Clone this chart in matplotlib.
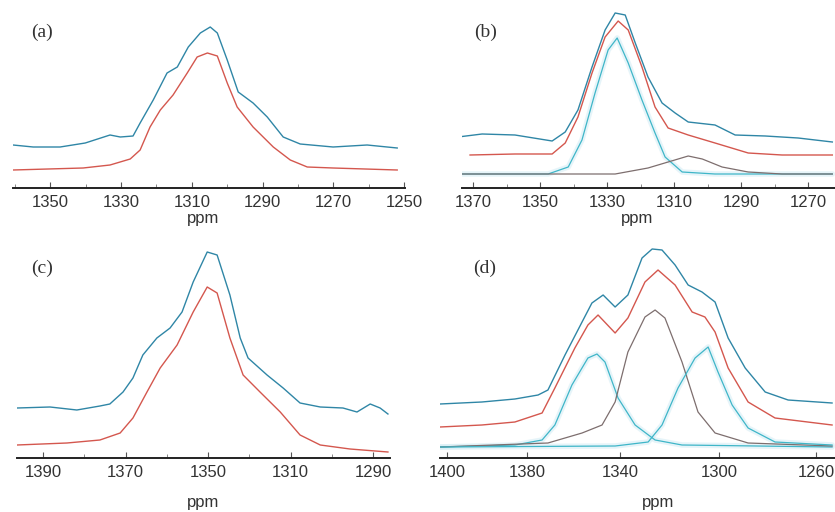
import matplotlib
matplotlib.use("Agg")
import matplotlib.pyplot as plt
from matplotlib.ticker import MultipleLocator

# ---------------- data ----------------
# Panel (a)
a_blue_ppm = [1360.5, 1354.8, 1347.2, 1340.1, 1333.1, 1330.2, 1326.6, 1324.6, 1320.9, 1317.0,
              1314.1, 1311.0, 1307.6, 1304.8, 1302.8, 1300.0, 1296.9, 1292.7, 1288.7, 1284.2,
              1279.4, 1270.1, 1260.5, 1252.0]
a_blue_int = [43, 41, 41, 45, 53, 51, 52, 65, 88, 115, 121, 141, 155, 161, 155, 128, 96, 85, 71, 51,
              44, 41, 43, 40]
a_red_ppm = [1360.5, 1340.7, 1333.1, 1327.4, 1324.6, 1321.8, 1318.9, 1315.3, 1311.3, 1308.5,
             1305.6, 1302.8, 1300.0, 1297.2, 1292.7, 1287.0, 1282.2, 1277.4, 1270.1, 1252.0]
a_red_int = [18, 20, 23, 29, 38, 61, 78, 93, 115, 131, 135, 132, 105, 81, 61, 41, 28, 21, 20, 18]

# Panel (b)
b_blue_ppm = [1374.5, 1367.3, 1357.5, 1346.4, 1342.5, 1338.7, 1334.5, 1330.6, 1327.6, 1324.6,
              1321.6, 1317.8, 1313.6, 1309.7, 1305.8, 1297.8, 1291.8, 1282.8, 1273.0, 1262.8]
b_blue_int = [51, 54, 53, 47, 56, 78, 121, 158, 175, 173, 145, 111, 85, 75, 66, 63, 53, 52, 50, 46]
b_red_ppm = [1370.9, 1357.5, 1346.4, 1342.5, 1338.7, 1334.5, 1330.6, 1326.7, 1323.7, 1319.6,
             1315.7, 1311.8, 1305.8, 1297.8, 1287.9, 1277.8, 1262.8]
b_red_int = [33, 34, 34, 45, 71, 115, 151, 167, 158, 121, 81, 60, 53, 45, 35, 33, 33]
b_fit1_ppm = [1373.3, 1347.6, 1341.6, 1337.5, 1333.6, 1329.7, 1327.0, 1323.7, 1319.6, 1315.7,
              1312.7, 1307.6, 1297.8, 1262.8]
b_fit1_int = [14, 14, 21, 48, 95, 138, 150, 125, 88, 55, 31, 16, 14, 14]
b_fit2_ppm = [1373.3, 1327.6, 1317.8, 1311.8, 1305.8, 1301.6, 1295.7, 1287.9, 1277.8, 1262.8]
b_fit2_int = [14, 14, 20, 26, 32, 29, 21, 16, 14, 14]

# Panel (c)
c_blue_pos = [1396.3, 1388.3, 1381.8, 1376.2, 1373.8, 1370.6, 1368.2, 1365.8, 1362.4, 1359.2,
              1356.3, 1353.6, 1350.2, 1347.8, 1344.7, 1342.2, 1340.3, 1335.7, 1331.8, 1327.7,
              1322.8, 1317.3, 1313.9, 1310.7, 1308.3, 1306.4]
c_blue_int = [50, 51, 48, 52, 54, 66, 80, 103, 120, 130, 146, 176, 206, 203, 163, 120, 100, 83, 70,
              55, 51, 50, 46, 54, 50, 44]
c_red_pos = [1396.3, 1384.2, 1376.2, 1371.3, 1368.2, 1364.8, 1361.6, 1357.5, 1353.6, 1350.2,
             1347.8, 1344.7, 1341.5, 1337.4, 1332.5, 1327.7, 1322.8, 1315.6, 1306.4]
c_red_int = [13, 15, 18, 25, 40, 66, 90, 113, 146, 171, 165, 120, 83, 66, 46, 23, 13, 9, 6]

# Panel (d)
d_blue_pos = [1402.6, 1386.9, 1374.5, 1365.8, 1362.1, 1355.7, 1349.3, 1345.6, 1341.4, 1336.9,
              1332.1, 1326.8, 1323.0, 1319.3, 1314.4, 1309.5, 1304.3, 1299.4, 1294.5, 1288.1,
              1280.6, 1272.0, 1255.5]
d_blue_int = [54, 56, 59, 63, 68, 103, 136, 155, 163, 151, 163, 200, 209, 208, 193, 173, 166, 156,
              120, 90, 66, 58, 55]
d_red_pos = [1402.6, 1386.9, 1374.5, 1364.3, 1359.5, 1352.0, 1347.1, 1343.3, 1336.9, 1332.1,
             1325.7, 1320.8, 1314.4, 1308.0, 1303.2, 1299.4, 1294.5, 1287.0, 1276.9, 1255.5]
d_red_int = [31, 33, 36, 45, 70, 110, 133, 143, 125, 140, 176, 188, 173, 146, 141, 126, 90, 56, 40, 33]
d_fit1_pos = [1402.6, 1374.5, 1364.3, 1359.5, 1353.1, 1347.1, 1343.7, 1340.7, 1335.8, 1329.4,
              1321.9, 1311.8, 1255.5]
d_fit1_int = [11, 13, 18, 33, 73, 100, 104, 96, 60, 33, 18, 13, 11]
d_fit2_pos = [1402.6, 1362.1, 1349.3, 1341.8, 1336.9, 1332.1, 1325.7, 1321.9, 1318.2, 1311.8,
              1305.8, 1299.4, 1287.0, 1255.5]
d_fit2_int = [11, 15, 25, 33, 56, 106, 141, 148, 140, 96, 46, 25, 15, 12]
d_fit3_pos = [1402.6, 1336.9, 1324.5, 1319.3, 1313.3, 1306.9, 1302.0, 1298.3, 1293.0, 1287.0,
              1276.9, 1255.5]
d_fit3_int = [11, 12, 16, 33, 70, 100, 111, 86, 53, 30, 16, 13]

# ticks / labels
a_ticks = [1350, 1330, 1310, 1290, 1270, 1250]
a_labels = ["1350", "1330", "1310", "1290", "1270", "1250"]
b_ticks = [1370, 1350, 1330, 1310, 1290, 1270]
b_labels = ["1370", "1350", "1330", "1310", "1290", "1270"]
c_ticks = [1390, 1370, 1350, 1330, 1310]
c_labels = ["1390", "1370", "1350", "1310", "1290"]
d_ticks = [1400, 1370, 1335, 1298, 1261.5]
d_labels = ["1400", "1380", "1340", "1300", "1260"]
panel_tags = ["(a)", "(b)", "(c)", "(d)"]

# ---------------- styling ----------------
BLUE = "#2f86a6"
RED = "#d4574e"
CYAN = "#3fb6c8"
GREY = "#7d6e6e"
HALO = "#d6eef5"

W, H = 835, 512
fig = plt.figure(figsize=(W / 100, H / 100), dpi=100)
fig.patch.set_facecolor("white")


def make_ax(x0, x1, ytop, ybot):
    return fig.add_axes([x0 / W, 1 - ybot / H, (x1 - x0) / W, (ybot - ytop) / H])


axA = make_ax(13, 405, 8, 188)
axB = make_ax(462, 835, 8, 188)
axC = make_ax(17, 390, 248, 458)
axD = make_ax(440, 835, 248, 458)


def style(ax, xlim, ylim, ticks, labels, minor, tag, tagpos, ppm_x, ppm_y):
    ax.set_xlim(*xlim)
    ax.set_ylim(*ylim)
    for s in ("top", "left", "right"):
        ax.spines[s].set_visible(False)
    ax.spines["bottom"].set_linewidth(1.4)
    ax.spines["bottom"].set_color("#222222")
    ax.set_yticks([])
    ax.set_xticks(ticks, labels)
    if minor:
        ax.xaxis.set_minor_locator(MultipleLocator(10))
    ax.tick_params(axis="x", which="major", direction="in", length=4, width=0.8,
                   colors="#555555", labelcolor="#333333", labelsize=12, pad=5)
    ax.tick_params(axis="x", which="minor", direction="in", length=3, width=0.7, colors="#888888")
    for lab in ax.get_xticklabels():
        lab.set_fontfamily("Liberation Sans")
    ax.set_xlabel("ppm", fontsize=12, fontfamily="Liberation Sans", color="#333333")
    ax.xaxis.set_label_coords(ppm_x, ppm_y)
    ax.text(tagpos[0], tagpos[1], tag, transform=ax.transAxes, ha="center", va="center",
            fontsize=14, fontfamily="Liberation Serif", color="#333333")
    ax.patch.set_alpha(0)


def fit(ax, x, y, color):
    ax.plot(x, y, color=HALO, lw=4, alpha=0.6, solid_capstyle="round", zorder=1)
    ax.plot(x, y, color=color, lw=0.9, zorder=2)


# (a)
axA.plot(a_blue_ppm, a_blue_int, color=BLUE, lw=1.0)
axA.plot(a_red_ppm, a_red_int, color=RED, lw=1.0)
style(axA, (1360.5, 1249.8), (0, 180), a_ticks, a_labels, True, panel_tags[0],
      (0.074, 0.867), 0.485, -0.13)

# (b)
fit(axB, b_fit1_ppm, b_fit1_int, CYAN)
axB.plot(b_fit2_ppm, b_fit2_int, color=GREY, lw=0.9)
axB.plot(b_blue_ppm, b_blue_int, color=BLUE, lw=1.0)
axB.plot(b_red_ppm, b_red_int, color=RED, lw=1.0)
style(axB, (1373.3, 1262.0), (0, 180), b_ticks, b_labels, True, panel_tags[1],
      (0.062, 0.867), 0.47, -0.13)

# (c)
axC.plot(c_blue_pos, c_blue_int, color=BLUE, lw=1.0)
axC.plot(c_red_pos, c_red_int, color=RED, lw=1.0)
style(axC, (1396.3, 1305.9), (0, 210), c_ticks, c_labels, True, panel_tags[2],
      (0.067, 0.905), 0.5, -0.175)

# (d)
fit(axD, d_fit1_pos, d_fit1_int, CYAN)
axD.plot(d_fit2_pos, d_fit2_int, color=GREY, lw=0.9)
fit(axD, d_fit3_pos, d_fit3_int, CYAN)
axD.plot(d_blue_pos, d_blue_int, color=BLUE, lw=1.0)
axD.plot(d_red_pos, d_red_int, color=RED, lw=1.0)
style(axD, (1402.6, 1254.4), (0, 210), d_ticks, d_labels, False, panel_tags[3],
      (0.114, 0.905), 0.551, -0.175)

fig.savefig("out.png", dpi=100, facecolor="white")
